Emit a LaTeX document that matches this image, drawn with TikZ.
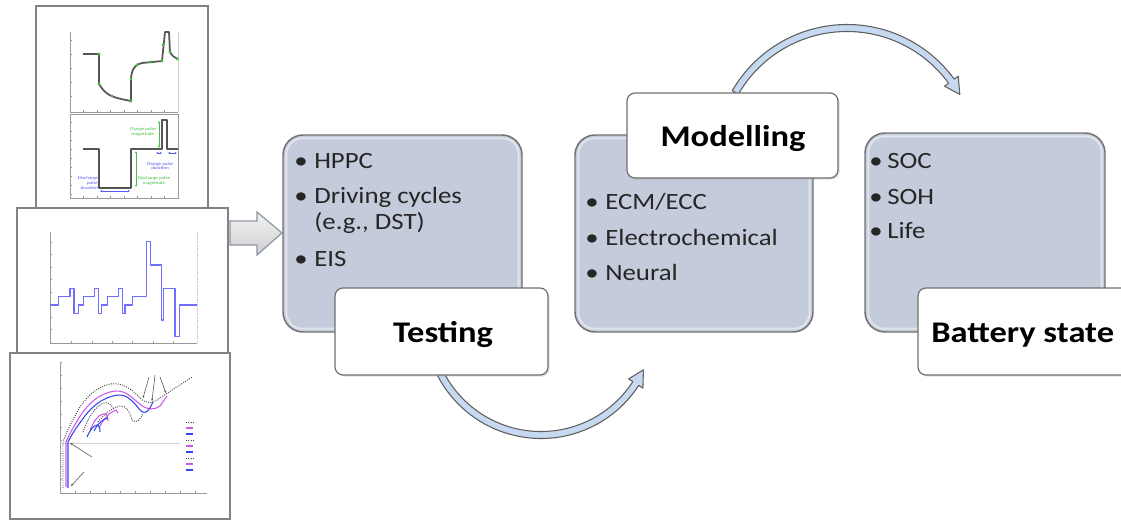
\documentclass[tikz,border=0pt]{standalone}
\usepackage{fontspec}
\newfontfamily\bodyfont[FakeStretch=1.15]{Carlito}
\usetikzlibrary{arrows.meta,calc,shadows}
\definecolor{boxblue}{RGB}{196,203,219}
\definecolor{boxline}{RGB}{112,112,112}
\definecolor{arrowblue}{RGB}{198,217,240}
\definecolor{arrowline}{RGB}{95,95,95}
\definecolor{blockline}{RGB}{140,150,165}
\definecolor{framegray}{RGB}{130,130,130}
\definecolor{plotgreen}{RGB}{70,190,70}
\definecolor{plotblue}{RGB}{90,90,240}
\definecolor{curvegray}{RGB}{85,85,85}
\definecolor{dstblue}{RGB}{110,110,255}
\definecolor{magentac}{RGB}{205,90,235}
\definecolor{bluec}{RGB}{50,70,240}
\begin{document}
\begin{tikzpicture}[x=0.75pt,y=-0.75pt,
  bluebox/.style={draw=boxline, line width=1.1pt, fill=boxblue, rounded corners=15pt, inner sep=0pt, outer sep=0pt},
  whitebox/.style={draw=boxline, line width=0.9pt, fill=white, rounded corners=6pt, inner sep=0pt, outer sep=0pt, drop shadow={shadow xshift=1.2pt, shadow yshift=-1.2pt, opacity=0.25}},
  itemtext/.style={font=\bodyfont\fontsize{17.5}{21}\selectfont, text=black!85, anchor=base west, inner sep=0pt},
  headtext/.style={font=\bodyfont\bfseries\fontsize{22.5}{27}\selectfont, text=black, anchor=base, inner sep=0pt},
  curvearrow/.style={draw=arrowline, line width=0.8pt, fill=arrowblue, line join=round},
  blockarrow/.style={draw=blockline, line width=0.9pt, top color=gray!10, bottom color=gray!38},
  photoframe/.style={draw=framegray, line width=1.5pt, fill=white},
  axisline/.style={draw=black!40, line width=0.35pt},
  tickline/.style={draw=black!40, line width=0.3pt},
  hppccurve/.style={draw=curvegray, line width=1.3pt, line join=round},
  gdot/.style={fill=plotgreen, draw=none},
  tinylabel/.style={font=\bodyfont\fontsize{3.3}{3.7}\selectfont, inner sep=0pt, align=center},
  anno/.style={line width=0.4pt, {Stealth[length=1.8pt,width=1.6pt]}-{Stealth[length=1.8pt,width=1.6pt]}},
  dstcurve/.style={draw=dstblue, line width=1.1pt, line join=round},
  blk/.style={draw=black!75, line width=0.7pt, densely dotted},
  mag/.style={draw=magentac, line width=0.8pt},
  blu/.style={draw=bluec, line width=0.8pt},
]
\useasboundingbox (0,0) rectangle (1121,522);
\clip (0,0) rectangle (1121,522);

% ---------- picture 1: HPPC ----------
\draw[photoframe] (36,6) rectangle (208,214);
\draw[axisline] (70,32) -- (70,112) -- (178,112);
\draw[axisline, black!20] (178,32) -- (178,112);
\foreach \yy in {40,54,68,82,96} \draw[tickline] (70,\yy) -- (72,\yy);
\foreach \xx in {83,97,110,124,137,151,164} \draw[tickline] (\xx,112) -- (\xx,110);
\draw[axisline] (70,114) rectangle (178,198);
\foreach \yy in {122,131,140,149,158,167,176,185,194} \draw[tickline] (70,\yy) -- (72,\yy);
\foreach \xx in {83,97,110,124,137,151,164} \draw[tickline] (\xx,198) -- (\xx,196);
\draw[hppccurve] (83,54) -- (99,54) -- (99,84) .. controls (104,92) and (108,95) .. (114,97) .. controls (120,99) and (126,100) .. (131,101) -- (131,78) .. controls (132,68) and (136,64) .. (142,63) -- (162,61) -- (165,32) -- (169,32) -- (170,52) .. controls (172,56) and (175,58) .. (178,59);
\foreach \p in {(99,54),(99,84),(112,96),(131,101),(131,79),(137,65),(150,62),(162,61),(163,45),(170,52),(177,59)} \fill[gdot] \p circle[radius=1.6];
\draw[hppccurve] (83,149) -- (99,149) -- (99,188) -- (131,188) -- (131,149) -- (162,149) -- (162,120) -- (167,120) -- (167,149) -- (178,149);
\draw[anno, plotgreen] (159,121) -- (159,148);
\draw[anno, plotgreen] (136,151) -- (136,187);
\draw[anno, plotblue] (100,191) -- (130,191);
\draw[anno, plotblue] (156,153) -- (162,153);
\draw[anno, plotblue] (168,153) -- (177,153);
\node[tinylabel, text=plotgreen] (cpm) at (143,132) {Charge pulse\\magnitude};
\node[tinylabel, text=plotgreen] (dpm) at (154,181) {Discharge pulse\\magnitude};
\node[tinylabel, text=plotblue, align=right] (dpd) at (88,183) {Discharge\\pulse\\duration};
\node[tinylabel, text=plotblue] (cpd) at (160,166) {Charge pulse\\duration};

% ---------- picture 2: DST ----------
\draw[photoframe] (17,208) rectangle (228,360);
\draw[axisline] (50,232) -- (50,343) -- (197,343);
\draw[axisline, black!25, densely dotted] (197,232) -- (197,343);
\foreach \yy in {242,254,267,279,292,304,317,329} \draw[tickline] (50,\yy) -- (52,\yy);
\foreach \xx in {71,92,112,132,153,173} \draw[tickline] (\xx,343) -- (\xx,341);
\draw[dstcurve] (50,305) -- (58.3,305) -- (58.3,296.7) -- (70,296.7) -- (70,288.3) -- (74,288.3) -- (74,313.3) -- (78.3,313.3) -- (78.3,305) -- (83.3,305) -- (83.3,296.7) -- (94.3,296.7) -- (94.3,288.3) -- (98.3,288.3) -- (98.3,313.3) -- (101.7,313.3) -- (101.7,305) -- (107.3,305) -- (107.3,296.7) -- (118.3,296.7) -- (118.3,288.3) -- (122.3,288.3) -- (122.3,313.3) -- (125,313.3) -- (125,305) -- (132.3,305) -- (132.3,296.7) -- (146.7,296.7) -- (146.7,241.7) -- (150.7,241.7) -- (150.7,265) -- (161.7,265) -- (161.7,320) -- (163.3,320) -- (163.3,288.3) -- (175,288.3) -- (175,336.7) -- (179.3,336.7) -- (179.3,305) -- (196.7,305);

% ---------- picture 3: temperature curves ----------
\draw[photoframe] (10,353) rectangle (230,519);
\draw[axisline] (60,362) -- (60,493) -- (207,493);
\foreach \yy in {362,375,388,401,414,427,440,453,466,479} \draw[tickline] (60,\yy) -- (62,\yy);
\foreach \xx in {75,90,105,120,135,150,165,180,195} \draw[tickline] (\xx,493) -- (\xx,491);
\draw[black!18, line width=0.6pt] (60,443) -- (180,443);
\draw[blk] (63,488) -- (63,442) .. controls (66,433) and (70,425) .. (76,414) .. controls (83,400) and (95,387) .. (110,384) .. controls (124,382) and (132,390) .. (140,398) .. controls (146,404) and (152,404) .. (160,398) .. controls (170,391) and (182,384) .. (192,377);
\draw[mag] (66,487) -- (66,442) .. controls (70,433) and (74,426) .. (79,418) .. controls (88,403) and (100,393) .. (115,391) .. controls (127,390) and (134,400) .. (141,405) .. controls (147,410) and (155,410) .. (160,406) -- (167,396);
\draw[blu] (68,488) -- (68,442) .. controls (72,434) and (76,428) .. (82,420) .. controls (90,408) and (102,397) .. (118,395) .. controls (128,394) and (135,404) .. (140,410) .. controls (143,414) and (147,413) .. (150,408) -- (153,402);
\draw[blk] (83,432) .. controls (88,418) and (95,406) .. (104,403) .. controls (108,402) and (111,404) .. (113,408);
\draw[blk] (98,422) .. controls (104,414) and (112,408) .. (120,406) .. controls (126,405) and (130,412) .. (132,420) .. controls (136,424) and (140,420) .. (143,414);
\draw[mag] (90,430) .. controls (94,421) and (98,415) .. (103,414) .. controls (106,413) and (108,416) .. (108,421);
\draw[mag] (99,428) .. controls (104,418) and (110,412) .. (116,410) -- (118,413);
\draw[blu] (87,437) .. controls (90,430) and (93,426) .. (97,425) .. controls (99,425) and (100,428) .. (100,432);
\draw[blu] (94,431) .. controls (98,423) and (103,419) .. (108,418);
\draw[black!70, line width=0.4pt, -{Stealth[length=2pt]}] (149,377) -- (143,398);
\draw[black!70, line width=0.4pt, -{Stealth[length=2pt]}] (155,375) -- (152,401);
\draw[black!70, line width=0.4pt, -{Stealth[length=2pt]}] (160,377) -- (166,393);
\draw[black!70, line width=0.4pt, -{Stealth[length=2pt]}] (92,457) -- (70,443);
\draw[black!70, line width=0.4pt, -{Stealth[length=2pt]}] (84,472) -- (71,486);
\foreach \yy/\st in {422/blk,428/mag,434/blu,440/blk,446/mag,452/blu,458/blk,464/mag,470/blu} \draw[\st] (186,\yy) -- (193,\yy);

% ---------- block arrow ----------
\draw[blockarrow] (230,221) -- (257,221) -- (257,212) -- (282,233) -- (257,255) -- (257,245) -- (230,245) -- cycle;

% ---------- blue boxes ----------
\node[bluebox, minimum width=179.25pt, minimum height=147.75pt] (testblue) at (402.5,233.5) {};
\node[bluebox, minimum width=178.5pt, minimum height=147.75pt] (modblue) at (694,233.5) {};
\node[bluebox, minimum width=180pt, minimum height=149.25pt] (batblue) at (985,232.5) {};
\foreach \b in {testblue,modblue,batblue}
  \draw[white, opacity=0.5, line width=1.4pt, rounded corners=12pt] ([xshift=2.5pt,yshift=-2.5pt]\b.north west) rectangle ([xshift=-2.5pt,yshift=2.5pt]\b.south east);

% ---------- curved arrows ----------
\coordinate (cA) at (541,322);
\coordinate (cB) at (847,157);
\draw[curvearrow] ($(cA)+(153:116.5)$) arc[start angle=153, end angle=33, radius=116.5] -- ($(cA)+(33:121.5)$) -- ($(cA)+(25:113)$) -- ($(cA)+(33:104.5)$) -- ($(cA)+(33:109.5)$) arc[start angle=33, end angle=153, radius=109.5] -- cycle;
\draw[curvearrow] ($(cB)+(210:132.5)$) arc[start angle=210, end angle=324, radius=132.5] -- ($(cB)+(324:137.5)$) -- ($(cB)+(331:129)$) -- ($(cB)+(324:120.5)$) -- ($(cB)+(324:125.5)$) arc[start angle=324, end angle=210, radius=125.5] -- cycle;

% ---------- white boxes ----------
\node[whitebox, minimum width=159.75pt, minimum height=65.25pt] (testwhite) at (441.5,331.5) {};
\node[whitebox, minimum width=158.25pt, minimum height=63.75pt] (modwhite) at (732.5,135.5) {};
\node[whitebox, minimum width=159.75pt, minimum height=65.25pt] (batwhite) at (1024.5,331.5) {};

% ---------- texts ----------
\node[itemtext] (tb1) at (294,168) {•};
\node[itemtext] (tt1) at (314,168) {HPPC};
\node[itemtext] (tb2) at (294,203) {•};
\node[itemtext] (tt2) at (314,203) {Driving cycles};
\node[itemtext] (tt2b) at (314,229) {(e.g., DST)};
\node[itemtext] (tb3) at (294,266) {•};
\node[itemtext] (tt3) at (314,266) {EIS};

\node[itemtext] (mb1) at (585,209) {•};
\node[itemtext] (mt1) at (605,209) {ECM/ECC};
\node[itemtext] (mb2) at (585,245) {•};
\node[itemtext] (mt2) at (605,245) {Electrochemical};
\node[itemtext] (mb3) at (585,280) {•};
\node[itemtext] (mt3) at (605,280) {Neural};

\node[itemtext] (bb1) at (869,168) {•};
\node[itemtext] (bt1) at (887,168) {SOC};
\node[itemtext] (bb2) at (869,204) {•};
\node[itemtext] (bt2) at (887,204) {SOH};
\node[itemtext] (bb3) at (869,238) {•};
\node[itemtext] (bt3) at (887,238) {Life};

\node[headtext] (testhead) at (443,342) {Testing};
\node[headtext] (modhead) at (733,146) {Modelling};
\node[headtext, anchor=base west] (bathead) at (931,342) {Battery state};
\end{tikzpicture}
\end{document}
